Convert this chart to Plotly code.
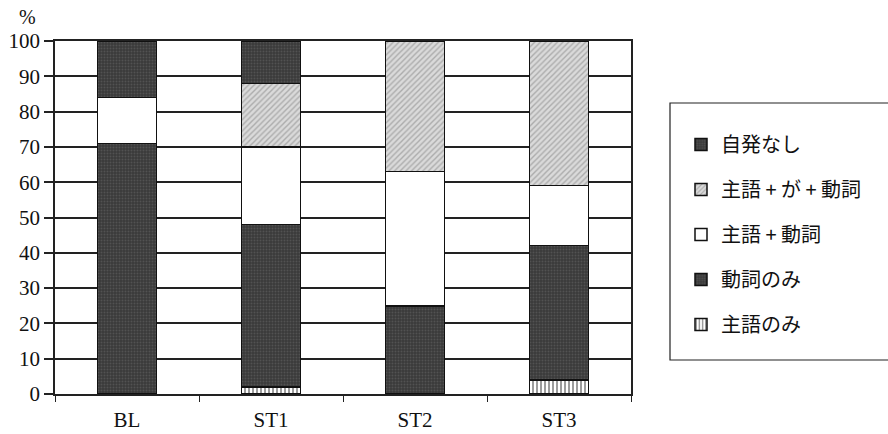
import plotly.graph_objects as go

categories = ["BL", "ST1", "ST2", "ST3"]
shugo_nomi = [0, 2, 0, 4]
doushi_nomi = [71, 46, 25, 38]
shugo_doushi = [13, 22, 38, 17]
shugo_ga_doushi = [0, 18, 37, 41]
jihatsu_nashi = [16, 12, 0, 0]
y_ticks = [0, 10, 20, 30, 40, 50, 60, 70, 80, 90, 100]

values = [shugo_nomi, doushi_nomi, shugo_doushi, shugo_ga_doushi, jihatsu_nashi]
legend_names = ["主語のみ", "動詞のみ", "主語 + 動詞", "主語 + が + 動詞", "自発なし"]

patterns = [
    dict(shape="|", bgcolor="#ffffff", fgcolor="#222222", size=4, solidity=0.45),
    dict(shape=".", bgcolor="#3a3a3a", fgcolor="#6a6a6a", size=3, solidity=0.3),
    dict(shape="", bgcolor="#ffffff", fgcolor="#ffffff"),
    dict(shape="/", bgcolor="#dadada", fgcolor="#7e7e7e", size=4, solidity=0.35),
    dict(shape=".", bgcolor="#3a3a3a", fgcolor="#6a6a6a", size=3, solidity=0.3),
]
colors = ["#ffffff", "#3a3a3a", "#ffffff", "#dadada", "#3a3a3a"]

fig = go.Figure()
n = len(values)
for i, (name, vals) in enumerate(zip(legend_names, values)):
    fig.add_trace(go.Bar(
        x=categories, y=vals, name=name,
        legendgroup=f"g{i}",
        legendrank=n - i,
        width=0.41,
        marker=dict(color=colors[i], pattern=patterns[i],
                    line=dict(color="#111111", width=1.5)),
    ))

W, H = 888, 434
L, R, T, B = 55, 257, 41, 40
pw = W - L - R
ph = H - T - B

def px_x(p):
    return (p - L) / pw

def px_y(p):
    return (H - B - p) / ph

fig.update_layout(
    width=W, height=H,
    margin=dict(l=L, r=R, t=T, b=B, autoexpand=False),
    barmode="stack",
    bargap=0.59,
    plot_bgcolor="#ffffff",
    paper_bgcolor="#ffffff",
    font=dict(family="Liberation Serif", size=21, color="#111111"),
    showlegend=True,
    legend=dict(
        x=px_x(681), y=px_y(125), xanchor="left", yanchor="top",
        traceorder="grouped", tracegroupgap=16,
        font=dict(family="Noto Sans CJK JP", size=20, color="#111111"),
        bgcolor="rgba(0,0,0,0)", borderwidth=0,
    ),
    xaxis=dict(
        automargin=False,
        showline=True, linecolor="#222222", linewidth=1.5, mirror=True,
        ticks="outside", ticklen=6, tickcolor="#222222", tickwidth=1,
        tickson="boundaries", showgrid=False,
        ticklabelstandoff=6,
        tickfont=dict(family="Liberation Serif", size=21),
    ),
    yaxis=dict(
        automargin=False,
        range=[0, 100], tickvals=y_ticks,
        showline=True, linecolor="#222222", linewidth=1.5, mirror=True,
        ticks="outside", ticklen=9, tickcolor="#222222", tickwidth=1.5,
        showgrid=True, gridcolor="#222222", gridwidth=1.5,
        zeroline=False,
        tickfont=dict(family="Liberation Serif", size=21),
    ),
    shapes=[dict(
        type="rect", xref="paper", yref="paper",
        x0=px_x(670), x1=px_x(895), y0=px_y(360), y1=px_y(103),
        line=dict(color="#222222", width=1.2), fillcolor="rgba(0,0,0,0)",
    )],
    annotations=[dict(
        text="%", xref="paper", yref="paper", x=px_x(27), y=px_y(17),
        xanchor="center", yanchor="middle", showarrow=False,
        font=dict(family="Liberation Serif", size=20),
    )],
)

fig.write_html("out.html")
